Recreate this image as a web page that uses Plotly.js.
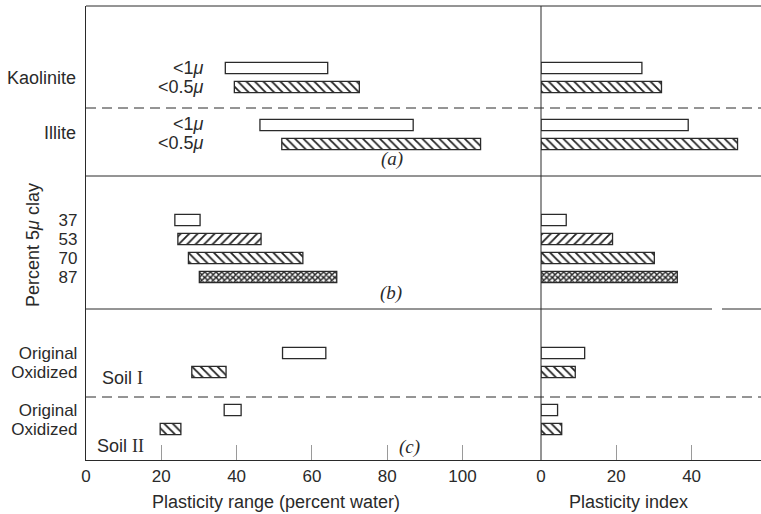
<!DOCTYPE html>
<html>
<head>
<meta charset="utf-8">
<script src="https://cdn.plot.ly/plotly-3.0.1.min.js"></script>
<style>html,body{margin:0;padding:0;background:#fff;}#chart{width:761px;height:514px;}</style>
</head>
<body>
<div id="chart"></div>
<script>
// ---- data ----
const rows = ["Kaolinite <1μ", "Kaolinite <0.5μ", "Illite <1μ", "Illite <0.5μ",
              "37", "53", "70", "87",
              "Soil I Original", "Soil I Oxidized", "Soil II Original", "Soil II Oxidized"];
const plasticLimit    = [37.0, 39.4, 46.2, 52.0, 23.6, 24.4, 27.2, 30.1, 52.2, 28.1, 36.7, 19.7];
const liquidLimit     = [64.2, 72.6, 86.9, 104.8, 30.3, 46.5, 57.6, 66.6, 63.7, 37.2, 41.2, 25.2];
const plasticityIndex = [26.8, 32.0, 39.1, 52.2, 6.7, 19.0, 30.1, 36.2, 11.6, 9.1, 4.4, 5.5];
const hatch = ["", "\\", "", "\\", "", "/", "\\", "x", "", "\\", "", "\\"];
const rangeTicks = [0, 20, 40, 60, 80, 100];
const indexTicks = [0, 20, 40];
const rowTickVals = ["37", "53", "70", "87", "Soil I Original", "Soil I Oxidized", "Soil II Original", "Soil II Oxidized"];
const rowTickText = ["37", "53", "70", "87", "Original", "Oxidized", "Original", "Oxidized"];

// ---- layout helpers ----
const W = 761, H = 514, L = 86, T = 6, B = 54;
const pw = W - L, ph = H - T - B;
const px = x => (x - L) / pw;            // pixel -> paper x
const py = y => (H - B - y) / ph;        // pixel -> paper y
const ink = '#2a2a2a';
const sans = 'Liberation Sans, Arial, sans-serif';
const serif = 'Liberation Serif, Times New Roman, serif';

const categoryOrder = ["Kaolinite <1μ", "Kaolinite <0.5μ", "s1", "Illite <1μ", "Illite <0.5μ",
  "s2", "s3", "s4", "37", "53", "70", "87", "s5", "s6", "s7",
  "Soil I Original", "Soil I Oxidized", "s8", "Soil II Original", "Soil II Oxidized"];

const sizes = hatch.map(h => h === "x" ? 4 : 6);
const solid = hatch.map(h => h === "x" ? 0.6 : 0.3);

const common = {
  type: 'bar', orientation: 'h', y: rows, width: 0.6, hoverinfo: 'skip',
  marker: {
    color: '#ffffff',
    line: {color: ink, width: 1.3},
    pattern: {shape: hatch, fgcolor: '#222', bgcolor: '#ffffff', size: sizes, solidity: solid, fillmode: 'replace'}
  }
};

const traces = [
  Object.assign({}, common, {
    x: liquidLimit.map((v, i) => v - plasticLimit[i]), base: plasticLimit,
    xaxis: 'x', yaxis: 'y'
  }),
  Object.assign({}, common, {
    x: plasticityIndex, xaxis: 'x2', yaxis: 'y'
  })
];

const lineSh = (y, x0, x1, dash) => ({type: 'line', xref: 'paper', yref: 'paper',
  x0: x0, x1: x1, y0: py(y), y1: py(y), line: {color: ink, width: 1, dash: dash || 'solid'}});

const shapes = [
  lineSh(6, 0, 1),
  lineSh(108, 0, 1, '10px,6px'),
  lineSh(176, 0, 1),
  lineSh(309, 0, px(712)),
  lineSh(309, px(722), 1),
  lineSh(397, 0, 1, '10px,6px'),
  {type: 'line', xref: 'paper', yref: 'paper', x0: px(541), x1: px(541), y0: 0, y1: 1, line: {color: ink, width: 1}}
];

const ann = (text, x, y, opts) => Object.assign({
  text: text, xref: 'paper', yref: 'paper', x: px(x), y: py(y), showarrow: false,
  font: {family: sans, size: 17, color: ink}, xanchor: 'right', yanchor: 'middle'
}, opts || {});

const annotations = [
  ann('Kaolinite', 78, 78, {font: {family: sans, size: 18, color: ink}}),
  ann('Illite', 78, 133, {font: {family: sans, size: 18, color: ink}}),
  ann('&lt;1<i>μ</i>', 206, 68, {font: {family: sans, size: 18, color: ink}}),
  ann('&lt;0.5<i>μ</i>', 206, 87, {font: {family: sans, size: 18, color: ink}}),
  ann('&lt;1<i>μ</i>', 206, 124, {font: {family: sans, size: 18, color: ink}}),
  ann('&lt;0.5<i>μ</i>', 206, 143, {font: {family: sans, size: 18, color: ink}}),
  ann('Percent 5<i>μ</i> clay', 33, 245, {textangle: -90, xanchor: 'center', font: {family: sans, size: 18, color: ink}}),
  ann('Soil <span style="font-family:Liberation Serif">I</span>', 100, 378, {xanchor: 'left', font: {family: sans, size: 18, color: ink}}),
  ann('Soil <span style="font-family:Liberation Serif">II</span>', 95, 446, {xanchor: 'left', font: {family: sans, size: 18, color: ink}}),
  ann('<i>(a)</i>', 392, 159, {xanchor: 'center', font: {family: serif, size: 19, color: ink}}),
  ann('<i>(b)</i>', 391, 293, {xanchor: 'center', font: {family: serif, size: 19, color: ink}}),
  ann('<i>(c)</i>', 409, 447, {xanchor: 'center', font: {family: serif, size: 19, color: ink}}),
  ann('Plasticity range (percent water)', 276, 502, {xanchor: 'center', font: {family: sans, size: 18, color: ink}}),
  ann('Plasticity index', 628, 502, {xanchor: 'center', font: {family: sans, size: 18, color: ink}})
];

const xCommon = {
  ticks: 'inside', ticklen: 15, tickwidth: 1, tickcolor: '#9a9a9a',
  showline: true, linecolor: ink, linewidth: 1.2, showgrid: false, zeroline: false,
  tickfont: {family: sans, size: 17, color: ink}, fixedrange: true
};

const layout = {
  width: W, height: H, margin: {l: L, r: 0, t: T, b: B, pad: 0},
  paper_bgcolor: '#ffffff', plot_bgcolor: '#ffffff', showlegend: false, barmode: 'overlay',
  xaxis: Object.assign({}, xCommon, {domain: [0, px(541)], range: [0, (541 - L) / 3.765],
    tickmode: 'array', tickvals: rangeTicks, ticktext: rangeTicks.map(String), anchor: 'y'}),
  xaxis2: Object.assign({}, xCommon, {domain: [px(541), 1], range: [0, (W - 541) / 3.765],
    tickmode: 'array', tickvals: indexTicks, ticktext: indexTicks.map(String), anchor: 'y'}),
  yaxis: {type: 'category', categoryorder: 'array', categoryarray: categoryOrder,
    range: [19 + 31 / 19, -62 / 19], showline: true, linecolor: ink, linewidth: 1.2,
    showgrid: false, zeroline: false, ticks: '', ticklabelstandoff: 4,
    tickmode: 'array', tickvals: rowTickVals, ticktext: rowTickText,
    tickfont: {family: sans, size: 17, color: ink}, fixedrange: true},
  shapes: shapes,
  annotations: annotations
};

Plotly.newPlot('chart', traces, layout, {displayModeBar: false, staticPlot: true});
</script>
</body>
</html>
